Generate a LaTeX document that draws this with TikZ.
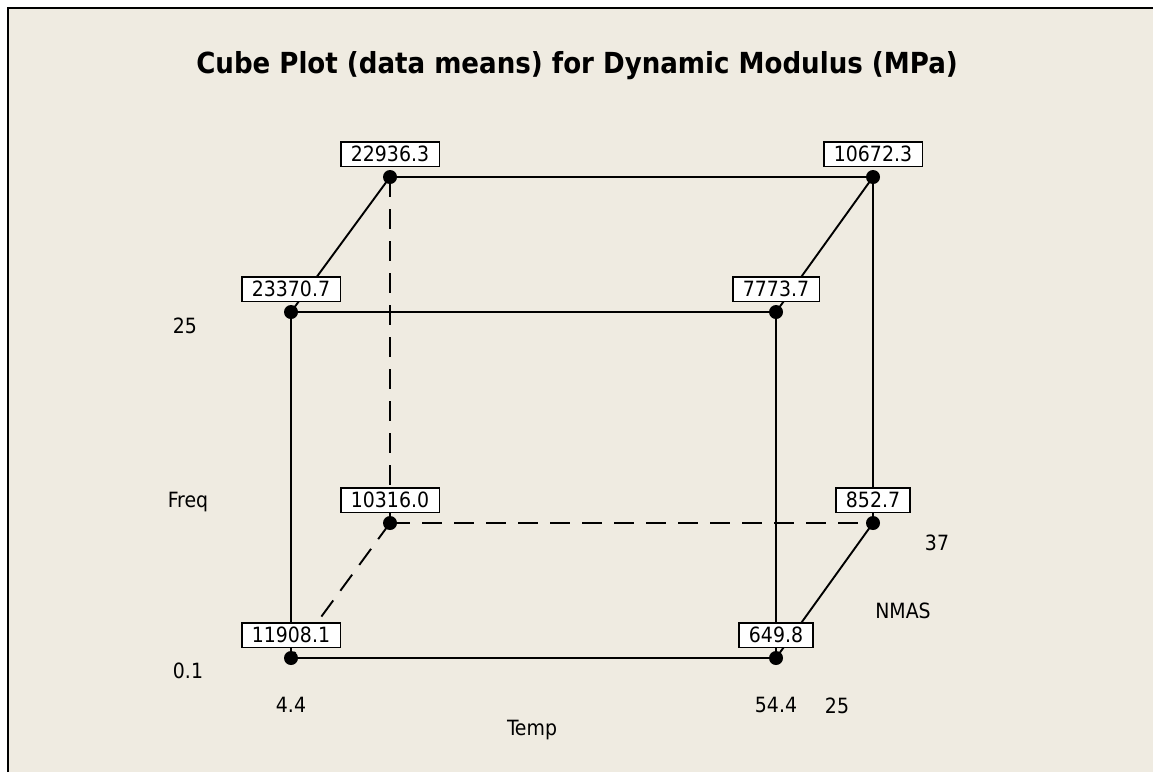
\documentclass[tikz,border=0pt]{standalone}
\usepackage{fontspec}
\setmainfont{DejaVu Sans Condensed}
\pgfdeclarelayer{back}
\pgfdeclarelayer{edges}
\pgfsetlayers{back,edges,main}
\definecolor{panel}{RGB}{239,235,225}
\tikzset{
  corner/.style={circle, fill=black, inner sep=0pt, minimum size=14pt},
  valbox/.style={draw=black, line width=1.1pt, fill=white, anchor=south,
    inner xsep=10pt, inner ysep=4.5pt, text height=15.5pt, text depth=0pt,
    font=\fontsize{21}{24}\selectfont},
  axislbl/.style={anchor=base, inner sep=0pt, font=\fontsize{21}{24}\selectfont},
  cubeedge/.style={line width=1.9pt, black},
  hiddenedge/.style={line width=1.9pt, black, dash pattern=on 20pt off 12pt}
}
\begin{document}
\begin{tikzpicture}[x=1pt, y=-1pt]
\useasboundingbox (0,0) rectangle (1153,772);
\begin{pgfonlayer}{back}
  \fill[white] (0,0) rectangle (1153,772);
  \fill[panel] (8,8) rectangle (1153,772);
  \draw[line width=2pt, black] (8,772) -- (8,8) -- (1153,8);
\end{pgfonlayer}

% title
\node[anchor=base, inner sep=0pt, font=\fontsize{29}{34}\selectfont\bfseries] (title) at (577,73)
  {Cube Plot (data means) for Dynamic Modulus (MPa)};

% cube corners
\node[corner] (fbl) at (291,658) {};
\node[corner] (fbr) at (776,658) {};
\node[corner] (ftl) at (291,312) {};
\node[corner] (ftr) at (776,312) {};
\node[corner] (bbl) at (390,523) {};
\node[corner] (bbr) at (873,523) {};
\node[corner] (btl) at (390,177) {};
\node[corner] (btr) at (873,177) {};

% edges
\begin{pgfonlayer}{edges}
  \draw[cubeedge] (ftl.center) -- (ftr.center);
  \draw[cubeedge] (fbl.center) -- (fbr.center);
  \draw[cubeedge] (ftl.center) -- (fbl.center);
  \draw[cubeedge] (ftr.center) -- (fbr.center);
  \draw[cubeedge] (btl.center) -- (btr.center);
  \draw[cubeedge] (btr.center) -- (bbr.center);
  \draw[cubeedge] (ftl.center) -- (btl.center);
  \draw[cubeedge] (ftr.center) -- (btr.center);
  \draw[cubeedge] (fbr.center) -- (bbr.center);
  \draw[hiddenedge] (btl.center) -- (bbl.center);
  \draw[hiddenedge] (bbl.center) -- (bbr.center);
  \draw[hiddenedge] (bbl.center) -- (fbl.center);
\end{pgfonlayer}

% cell means
\node[valbox] (vbtl) at ([yshift=10pt]btl.center) {22936.3};
\node[valbox] (vbtr) at ([yshift=10pt]btr.center) {10672.3};
\node[valbox] (vftl) at ([yshift=10pt]ftl.center) {23370.7};
\node[valbox] (vftr) at ([yshift=10pt]ftr.center) {7773.7};
\node[valbox] (vbbl) at ([yshift=10pt]bbl.center) {10316.0};
\node[valbox] (vbbr) at ([yshift=10pt]bbr.center) {852.7};
\node[valbox] (vfbl) at ([yshift=10pt]fbl.center) {11908.1};
\node[valbox] (vfbr) at ([yshift=10pt]fbr.center) {649.8};

% factor levels and names
\node[axislbl] (freqhi) at (185,333) {25};
\node[axislbl] (freq) at (188,507) {Freq};
\node[axislbl] (freqlo) at (188,678) {0.1};
\node[axislbl] (templo) at (291,712) {4.4};
\node[axislbl] (temphi) at (776,712) {54.4};
\node[axislbl] (temp) at (532,735) {Temp};
\node[axislbl] (nmaslo) at (837,713) {25};
\node[axislbl] (nmashi) at (937,550) {37};
\node[axislbl] (nmas) at (903,618) {NMAS};
\end{tikzpicture}
\end{document}
